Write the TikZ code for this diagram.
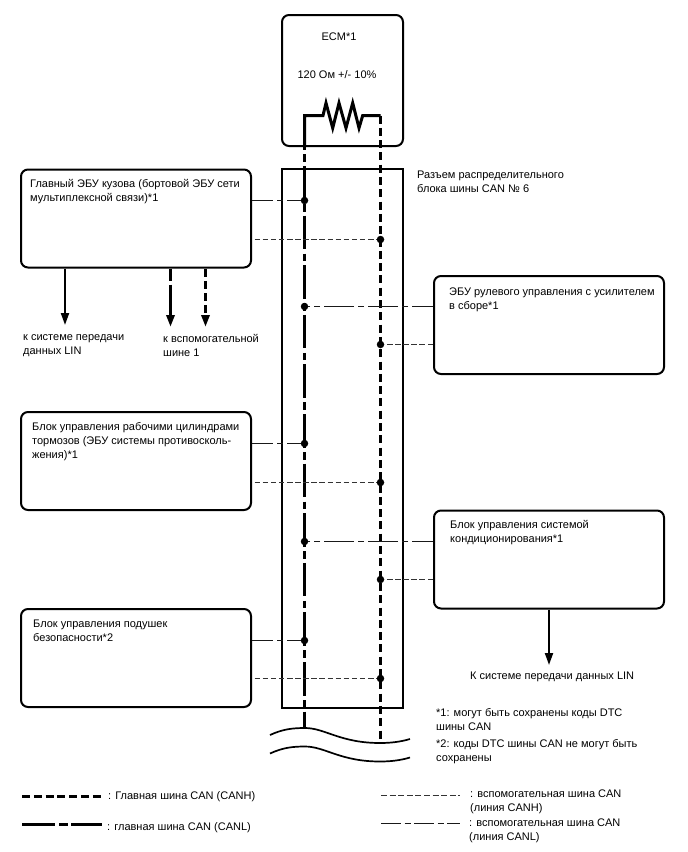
\documentclass[tikz,border=0pt]{standalone}
\usepackage{fontspec}
\setmainfont{Liberation Sans}
\usetikzlibrary{arrows.meta,positioning,calc}
\tikzset{
    block/.style = {draw, line width=2pt, rounded corners=7pt, minimum width=230pt, minimum height=98pt, inner sep=0pt},
    txt/.style = {align=left, anchor=north west, inner sep=0pt, font=\fontsize{11}{14}\selectfont},
    lbl/.style = {inner sep=0pt, font=\fontsize{11}{14}\selectfont},
    tmp/.style = {coordinate},
    dot/.style = {circle, fill=black, inner sep=0pt, minimum size=7.5pt},
    canh/.style = {line width=3pt, dash pattern=on 8pt off 4.3pt},
    canl/.style = {line width=3pt, dash pattern=on 33.5pt off 4.5pt on 7.5pt off 4.1pt},
    subh/.style = {line width=1.2pt, black!80, dash pattern=on 5.5pt off 2.6pt},
    subl/.style = {line width=1.2pt, black!90, dash pattern=on 30pt off 4pt on 6pt off 4pt, dash phase=9pt},
    tip/.style = {-{Triangle[width=8pt,length=12pt]}},
    solidarrow/.style = {tip, line width=2pt}
}

\begin{document}
\begin{tikzpicture}[x=1pt,y=-1pt]
    \useasboundingbox (0,0) rectangle (688,852);
    % boxes
    \node [block, minimum width=121pt, minimum height=131pt] (ecm) at (342.5,80.5) {};
    \node [draw, line width=2pt, minimum width=121pt, minimum height=539pt, inner sep=0pt] (conn) at (342.5,438.5) {};
    \node [block] (body)    at (136,218.5) {};
    \node [block] (brake)   at (136,461)   {};
    \node [block] (airbag)  at (136,658)   {};
    \node [block] (steer)   at (549,325)   {};
    \node [block] (aircon)  at (549,559.5) {};

    % texts
    \node [lbl] (ecmname) at (339,37) {ECM*1};
    \node [lbl] (ohm) at (337,75) {120 Ом +/- 10\%};
    \node [txt] (conntxt) at (417,170.5) {Разъем распределительного\\блока шины CAN № 6};
    \node [txt] (bodytxt) at (30,179.5) {Главный ЭБУ кузова (бортовой ЭБУ сети\\мультиплексной связи)*1};
    \node [txt] (steertxt) at (449,288) {ЭБУ рулевого управления с усилителем\\в сборе*1};
    \node [txt] (braketxt) at (32,422.5) {Блок управления рабочими цилиндрами\\тормозов (ЭБУ системы противосколь-\\жения)*1};
    \node [txt] (aircontxt) at (450,520.5) {Блок управления системой\\кондиционирования*1};
    \node [txt] (airbagtxt) at (33,620) {Блок управления подушек\\безопасности*2};
    \node [txt] (lintxt) at (23,334) {к системе передачи\\данных LIN};
    \node [txt] (subtxt) at (163,334) {к вспомогательной\\шине 1};
    \node [txt] (lintxtb) at (470,672) {К системе передачи данных LIN};
    \node [txt] (noteone) at (436,708) {*1: могут быть сохранены коды DTC\\шины CAN};
    \node [txt] (notetwo) at (436,739.5) {*2: коды DTC шины CAN не могут быть\\сохранены};

    % bus junctions
    \node [dot] (j1) at (304.5,200.5) {};
    \node [dot] (j2) at (380.5,239.5) {};
    \node [dot] (j3) at (304.5,306.5) {};
    \node [dot] (j4) at (380.5,344.5) {};
    \node [dot] (j5) at (304.5,443.5) {};
    \node [dot] (j6) at (380.5,482.5) {};
    \node [dot] (j7) at (304.5,541.5) {};
    \node [dot] (j8) at (380.5,579.5) {};
    \node [dot] (j9) at (304.5,640.5) {};
    \node [dot] (j10) at (380.5,678.5) {};
    \node [tmp] (lend) at (304.5,728) {};
    \node [tmp] (hend) at (380.5,739) {};
    \node [tmp] (rl) at (304.5,115.5) {};
    \node [tmp] (rh) at (380.5,115.5) {};

    % resistor
    \draw [line width=3pt] (ecm.south -| rl) -- (rl) -- (323,115.5) -- (326,103) -- (332.7,128) -- (339,103) -- (346,128) -- (352.7,103) -- (359,128) -- (362.7,115.5) -- (rh);

    % buses
    \draw [canl, dash phase=30.6pt] (ecm.south -| rl) -- (lend);
    \draw [canh] (rh) -- (hend);

    % stubs
    \draw [subl] (body.east |- j1) -- (j1);
    \draw [subh, dash phase=5.5pt] (body.east |- j2) -- (j2);
    \draw [subl] (steer.west |- j3) -- (j3);
    \draw [subh] (steer.west |- j4) -- (j4);
    \draw [subl] (brake.east |- j5) -- (j5);
    \draw [subh, dash phase=5.5pt] (brake.east |- j6) -- (j6);
    \draw [subl] (aircon.west |- j7) -- (j7);
    \draw [subh] (aircon.west |- j8) -- (j8);
    \draw [subl] (airbag.east |- j9) -- (j9);
    \draw [subh, dash phase=5.5pt] (airbag.east |- j10) -- (j10);

    % outputs
    \node [tmp] (a1) at (65,325) {};
    \node [tmp] (a2) at (170.5,327) {};
    \node [tmp] (a3) at (205.5,327) {};
    \node [tmp] (a4) at (549,665) {};
    \draw [solidarrow] (a1 |- body.south) -- (a1);
    \draw [tip, line width=3pt, dash pattern=on 12pt off 4pt on 60pt off 0pt] (a2 |- body.south) -- (a2);
    \draw [tip, canh] (a3 |- body.south) -- (a3);
    \draw [solidarrow] (a4 |- aircon.south) -- (a4);

    % break marks
    \draw [line width=1.7pt] (270,735) .. controls (283,729) and (293,728) .. (305,728) .. controls (325,728) and (340,743) .. (380,743) .. controls (390,743) and (400,742) .. (410,739);
    \draw [line width=1.7pt] (270,753.5) .. controls (283,747.5) and (293,746.5) .. (305,746.5) .. controls (325,746.5) and (340,761.5) .. (380,761.5) .. controls (390,761.5) and (400,760.5) .. (410,757.5);

    % legend
    \node [tmp] (k1a) at (22,796.5) {};
    \node [tmp] (k1b) at (102,796.5) {};
    \node [tmp] (k2a) at (22,824.5) {};
    \node [tmp] (k2b) at (102,824.5) {};
    \node [tmp] (k3a) at (381,795.5) {};
    \node [tmp] (k3b) at (459.5,795.5) {};
    \node [tmp] (k4a) at (381,823.5) {};
    \node [tmp] (k4b) at (459.5,823.5) {};
    \draw [canh, dash pattern=on 8pt off 3.8pt] (k1a) -- (k1b);
    \draw [canl, dash pattern=on 33pt off 4pt on 9pt off 3pt] (k2a) -- (k2b);
    \draw [subh, dash pattern=on 6pt off 2.6pt] (k3a) -- (k3b);
    \draw [subl, dash pattern=on 20pt off 3.5pt on 6pt off 3.5pt on 20pt off 3.5pt on 6pt off 3.5pt, dash phase=0pt] (k4a) -- (k4b);
    \node [txt] (k1txt) at (108,791.5) {: Главная шина CAN (CANH)};
    \node [txt] (k2txt) at (107,822) {: главная шина CAN (CANL)};
    \node [txt] (k3txt) at (470,790) {: вспомогательная шина CAN\\(линия CANH)};
    \node [txt] (k4txt) at (469,819) {: вспомогательная шина CAN\\(линия CANL)};
\end{tikzpicture}
\end{document}
